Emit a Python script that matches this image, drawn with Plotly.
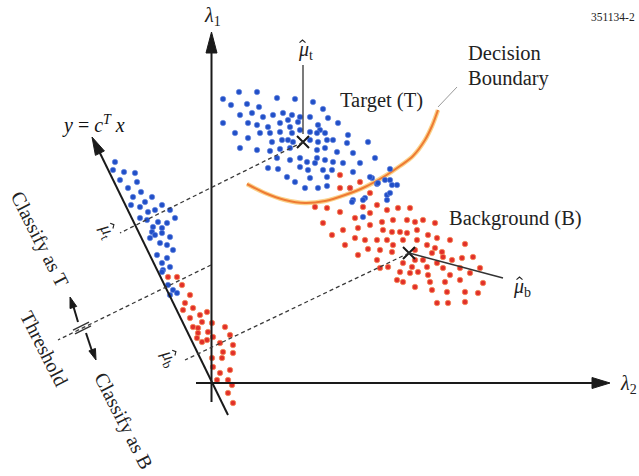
import math
import plotly.graph_objects as go

# ---------------- data (image-plane coordinates, y grows downward) ----------------
target_x = [223,239,257,277,295,313,231,247,259,323,240,252,263,273,283,292,300,310,328,
            223,248,257,268,280,290,298,318,338,235,260,270,280,292,300,310,320,325,348,
            248,272,282,288,293,310,318,327,333,347,368,240,257,270,280,290,317,325,337,
            353,375,290,300,307,315,325,333,343,360,268,278,300,308,323,332,353,390,287,
            295,310,327,372,385,305,318,327,350,377,392,353,365,387,370,378,390,397,390,
            352,363,387,363,288,317,277,317]
target_y = [99,92,92,98,99,102,105,104,107,109,115,113,117,115,113,115,117,117,118,
            123,123,125,127,123,127,122,125,123,133,133,133,132,133,130,132,130,133,135,
            138,142,140,140,142,140,142,140,140,143,142,148,150,151,149,148,150,148,152,
            153,158,160,158,162,163,160,162,163,163,168,169,167,170,170,170,172,169,177,
            182,178,177,178,180,188,188,186,188,184,185,200,198,195,177,183,180,185,193,
            202,200,200,217,120,133,158,158]

background_x = [340,360,340,350,370,315,327,340,363,377,387,398,410,323,355,370,382,393,407,
                415,423,435,332,343,358,370,383,392,400,407,417,428,437,450,465,345,355,365,
                377,387,393,403,417,427,435,442,358,368,380,392,415,432,443,462,473,377,415,
                423,437,452,380,388,403,412,427,443,460,480,400,410,418,428,450,470,397,403,
                415,430,445,460,483,432,447,465,478,437,448,465]
background_y = [175,182,188,188,193,207,208,212,207,205,210,208,208,223,218,213,222,220,220,
                222,220,223,235,230,228,225,230,232,232,233,230,235,238,240,244,245,238,240,
                240,240,245,240,240,245,248,252,255,249,250,252,250,253,257,258,257,260,260,
                260,263,260,268,267,263,267,267,268,268,268,272,273,272,275,275,273,280,282,
                287,282,282,280,283,290,292,292,293,303,303,302]

proj_target_x = [115,113,124,135,137,128,141,133,152,145,162,140,148,155,170,140,147,158,175,
                 167,153,162,152,155,162,170,150,160,167,173,157,167,162,170,163,162,168,173,
                 177,170,120,131]
proj_target_y = [162,170,172,173,182,188,192,197,197,202,205,207,212,210,210,218,220,222,218,
                 223,227,228,232,235,233,237,238,243,245,250,255,258,263,267,270,272,285,290,
                 293,295,180,205]

proj_background_x = [168,177,182,190,185,183,193,207,200,190,202,212,193,198,225,208,198,197,
                     207,213,230,202,220,233,223,212,222,233,213,220,230,217,228,232,228,233]
proj_background_y = [277,277,285,295,303,310,308,312,315,318,322,323,327,328,327,332,333,338,
                     340,337,335,342,343,345,352,358,358,353,367,373,370,380,380,385,393,403]

boundary_x = [247,265,285,305,325,345,365,385,400,413,425,432,438]
boundary_y = [184,193,200,203,201,195,187,176,166,156,140,126,110]

mean_t = (303, 142)
mean_b = (409, 253)
origin = (211.5, 383)

# ---------------- styling ----------------
SERIF = "Liberation Serif, Times New Roman, serif"
BLUE = "#2250C8"
RED = "#E2302A"
INK = "#1a1a1a"
DASH = "#3a3a3a"

fig = go.Figure()

shapes = []


def line(x0, y0, x1, y1, color=INK, width=2, dash=None):
    d = dict(type="line", xref="x", yref="y", x0=x0, y0=y0, x1=x1, y1=y1,
             line=dict(color=color, width=width))
    if dash:
        d["line"]["dash"] = dash
    shapes.append(d)


def head(tip, frm, length, width, color=INK):
    dx, dy = tip[0] - frm[0], tip[1] - frm[1]
    n = math.hypot(dx, dy)
    ux, uy = dx / n, dy / n
    px, py = -uy, ux
    bx, by = tip[0] - ux * length, tip[1] - uy * length
    p1 = (bx + px * width / 2, by + py * width / 2)
    p2 = (bx - px * width / 2, by - py * width / 2)
    path = f"M {tip[0]} {tip[1]} L {p1[0]} {p1[1]} L {p2[0]} {p2[1]} Z"
    shapes.append(dict(type="path", xref="x", yref="y", path=path,
                       fillcolor=color, line=dict(color=color, width=1)))


# axes
line(origin[0], 402, origin[0], 45, width=2)
head((origin[0], 32), (origin[0], 60), 21, 11)
line(196, origin[1], 600, origin[1], width=2)
head((610, origin[1]), (590, origin[1]), 18, 11)

# projection direction y = c^T x
line(228, 415, 97, 147, width=2)
head((92, 137), (228, 415), 18, 10)

# dashed projection lines
line(mean_t[0], mean_t[1], 120, 233, color=DASH, width=1.3, dash="4px,3px")
line(211, 265, 58, 340, color=DASH, width=1.3, dash="4px,3px")
line(mean_b[0], mean_b[1], 185, 360, color=DASH, width=1.3, dash="4px,3px")

# mean leaders
line(mean_t[0], 65, mean_t[0], 134, color="#333", width=1.3)
line(mean_b[0], mean_b[1], 503, 278, color="#333", width=1.5)

# decision boundary leader
line(438, 107, 457, 87, color="#999", width=1)

# threshold double arrow
line(78, 322, 73, 305, width=2)
head((70, 297), (78, 322), 11, 7)
line(86, 333, 92, 351, width=2)
head((96, 360), (86, 333), 11, 7)
for off in (-2.2, 2.2):
    cx, cy = 82 + 0.45 * off, 328 + 0.89 * off
    shapes.append(dict(type="line", xref="x", yref="y",
                       x0=cx - 8, y0=cy + 4, x1=cx + 8, y1=cy - 4,
                       line=dict(color="#333", width=1.4)))

# decision boundary
fig.add_trace(go.Scatter(x=boundary_x, y=boundary_y, mode="lines",
                         line=dict(color="#FBD28A", width=4.5, shape="spline"),
                         hoverinfo="skip", showlegend=False))
fig.add_trace(go.Scatter(x=boundary_x, y=boundary_y, mode="lines",
                         line=dict(color="#EE7A33", width=2, shape="spline"),
                         hoverinfo="skip", showlegend=False))

# clusters
fig.add_trace(go.Scatter(x=target_x + proj_target_x, y=target_y + proj_target_y,
                         mode="markers", showlegend=False,
                         marker=dict(size=5.5, color=BLUE,
                                     line=dict(color="rgba(110,140,225,0.7)", width=0.8))))
fig.add_trace(go.Scatter(x=background_x + proj_background_x,
                         y=background_y + proj_background_y,
                         mode="markers", showlegend=False,
                         marker=dict(size=5.5, color=RED,
                                     line=dict(color="rgba(245,140,90,0.8)", width=1))))

# means
fig.add_trace(go.Scatter(x=[mean_t[0], mean_b[0]], y=[mean_t[1], mean_b[1]],
                         mode="markers", showlegend=False,
                         marker=dict(symbol="x-thin", size=12, color=INK,
                                     line=dict(color=INK, width=2))))

ann = []


def text(x, y, s, size=16, angle=0, xanchor="center", color="#222", family=SERIF):
    ann.append(dict(x=x, y=y, xref="x", yref="y", text=s, showarrow=False,
                    textangle=angle, xanchor=xanchor, yanchor="middle",
                    font=dict(family=family, size=size, color=color)))


def mu(x, y, sub, size=18, angle=0):
    # mu with a hat drawn as a small chevron above the letter, rotated with the label
    text(x, y, "<i>μ</i><sub>" + sub + "</sub>", size=size, angle=angle)
    th = math.radians(angle)
    c, s = math.cos(th), math.sin(th)

    def tr(lx, ly):
        return x + lx * c - ly * s, y + lx * s + ly * c

    ax_, ay_ = -2.5, -0.5 * size
    pts = [tr(ax_ - 3, ay_ + 2.6), tr(ax_, ay_), tr(ax_ + 3, ay_ + 2.6)]
    path = "M {:.1f} {:.1f} L {:.1f} {:.1f} L {:.1f} {:.1f}".format(
        pts[0][0], pts[0][1], pts[1][0], pts[1][1], pts[2][0], pts[2][1])
    shapes.append(dict(type="path", xref="x", yref="y", path=path,
                       line=dict(color="#222", width=1.1)))


text(212, 16, "<i>λ</i><sub>1</sub>", size=20)
text(628, 384, "<i>λ</i><sub>2</sub>", size=20)
text(589, 17, "351134-2", size=11.5, xanchor="left")
mu(305, 50, "t", size=20)
text(466, 53, "Decision", size=20.5, xanchor="left")
text(466, 78, "Boundary", size=20.5, xanchor="left")
text(381, 100, "Target (T)", size=20.5)
text(515, 218, "Background (B)", size=20.5)
mu(522, 287, "b", size=20)
text(93, 124, "<i>y</i> = <i>c</i><sup><i>T</i></sup> <i>x</i>", size=20, color="#111")
text(40, 239, "Classify as T", size=20, angle=63)
text(44, 348, "Threshold", size=20, angle=63)
text(124, 421, "Classify as B", size=20, angle=63)
mu(107, 231, "t", size=18, angle=63)
mu(169, 358, "b", size=18, angle=63)

fig.update_layout(
    width=639, height=476,
    margin=dict(l=0, r=0, t=0, b=0),
    paper_bgcolor="white", plot_bgcolor="white",
    xaxis=dict(range=[0, 639], visible=False, fixedrange=True),
    yaxis=dict(range=[476, 0], visible=False, fixedrange=True),
    shapes=shapes, annotations=ann, showlegend=False,
)

fig.write_html("out.html")
